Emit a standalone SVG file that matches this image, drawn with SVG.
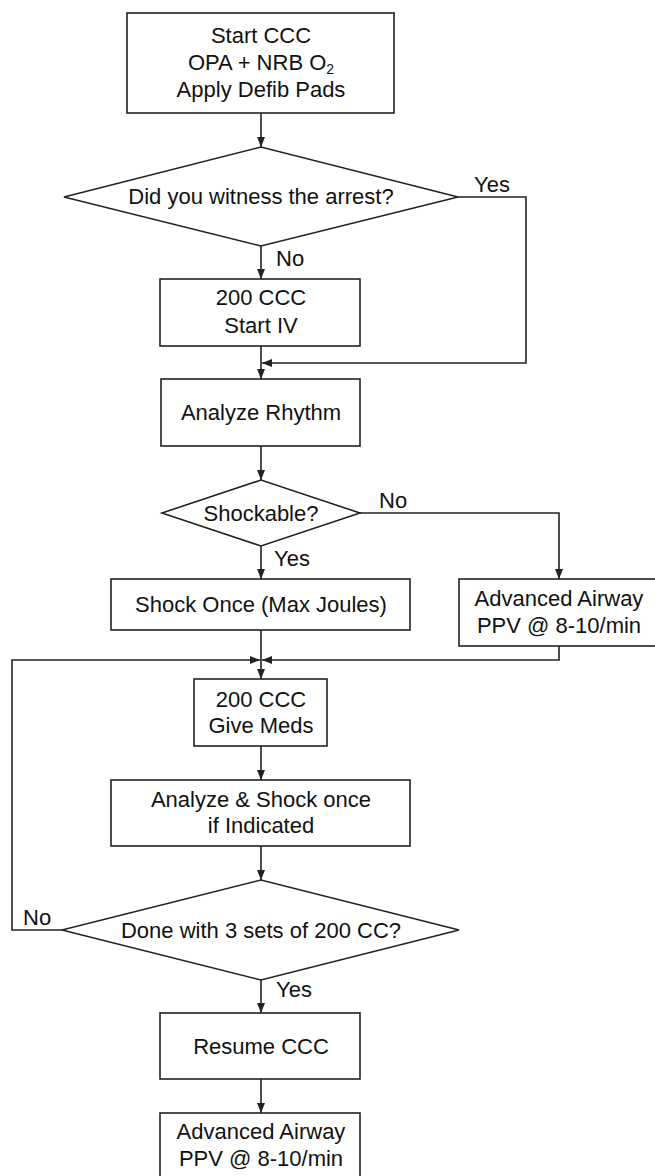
<svg xmlns="http://www.w3.org/2000/svg" width="655" height="1176" viewBox="0 0 655 1176">
<style>
.box{fill:#fff;stroke:#222;stroke-width:1.6}
.ln{fill:none;stroke:#222;stroke-width:1.6}
.t{font-family:"Liberation Sans",Arial,sans-serif;font-size:22px;fill:#111;text-anchor:middle}
.lb{font-family:"Liberation Sans",Arial,sans-serif;font-size:22px;fill:#111}
</style>
<defs>
<marker id="ah" markerUnits="userSpaceOnUse" markerWidth="10" markerHeight="8" refX="10" refY="4" orient="auto">
<path d="M0,0 L10,4 L0,8 z" fill="#222"/>
</marker>
</defs>
<rect width="655" height="1176" fill="#fff"/>
<g id="connectors">
<path class="ln" d="M261,113 V147" marker-end="url(#ah)"/>
<path class="ln" d="M261,246 V279" marker-end="url(#ah)"/>
<path class="ln" d="M458,197 H526 V363 H262" marker-end="url(#ah)"/>
<path class="ln" d="M261,346 V379" marker-end="url(#ah)"/>
<path class="ln" d="M261,446 V480" marker-end="url(#ah)"/>
<path class="ln" d="M261,546 V579" marker-end="url(#ah)"/>
<path class="ln" d="M360,513 H559 V579" marker-end="url(#ah)"/>
<path class="ln" d="M261,630 V679" marker-end="url(#ah)"/>
<path class="ln" d="M559,646 V660 H262" marker-end="url(#ah)"/>
<path class="ln" d="M62,930 H12 V660 H260" marker-end="url(#ah)"/>
<path class="ln" d="M261,746 V780" marker-end="url(#ah)"/>
<path class="ln" d="M261,846 V880" marker-end="url(#ah)"/>
<path class="ln" d="M261,980 V1013" marker-end="url(#ah)"/>
<path class="ln" d="M261,1079 V1113" marker-end="url(#ah)"/>
<text class="lb" x="474" y="192">Yes</text>
<text class="lb" x="276" y="266">No</text>
<text class="lb" x="379" y="508">No</text>
<text class="lb" x="274" y="566">Yes</text>
<text class="lb" x="23" y="925">No</text>
<text class="lb" x="276" y="997">Yes</text>
</g>
<g id="start">
<rect class="box" x="127" y="13" width="267" height="100"/>
<text class="t" x="261" y="43">Start CCC</text>
<text class="t" x="261" y="70">OPA + NRB O<tspan font-size="14" dy="4">2</tspan></text>
<text class="t" x="261" y="97">Apply Defib Pads</text>
</g>
<g id="witness">
<polygon class="box" points="64,197 261,147 458,197 261,246"/>
<text class="t" x="261" y="204">Did you witness the arrest?</text>
</g>
<g id="ccc1">
<rect class="box" x="160" y="279" width="200" height="67"/>
<text class="t" x="261" y="305">200 CCC</text>
<text class="t" x="261" y="333">Start IV</text>
</g>
<g id="rhythm">
<rect class="box" x="161" y="379" width="199" height="67"/>
<text class="t" x="261" y="420">Analyze Rhythm</text>
</g>
<g id="shockable">
<polygon class="box" points="162,513 261,480 360,513 261,546"/>
<text class="t" x="261" y="521">Shockable?</text>
</g>
<g id="shock">
<rect class="box" x="111" y="579" width="299" height="51"/>
<text class="t" x="261" y="612">Shock Once (Max Joules)</text>
</g>
<g id="airway1">
<rect class="box" x="459" y="579" width="200" height="67"/>
<text class="t" x="559" y="606">Advanced Airway</text>
<text class="t" x="559" y="633">PPV @ 8-10/min</text>
</g>
<g id="meds">
<rect class="box" x="194" y="679" width="133" height="67"/>
<text class="t" x="261" y="707">200 CCC</text>
<text class="t" x="261" y="733">Give Meds</text>
</g>
<g id="analyze-shock">
<rect class="box" x="111" y="780" width="299" height="66"/>
<text class="t" x="261" y="807">Analyze &amp; Shock once</text>
<text class="t" x="261" y="833">if Indicated</text>
</g>
<g id="done">
<polygon class="box" points="62,930 261,880 459,930 261,980"/>
<text class="t" x="261" y="938">Done with 3 sets of 200 CC?</text>
</g>
<g id="resume">
<rect class="box" x="160" y="1013" width="200" height="66"/>
<text class="t" x="261" y="1054">Resume CCC</text>
</g>
<g id="airway2">
<rect class="box" x="160" y="1113" width="200" height="67"/>
<text class="t" x="261" y="1139">Advanced Airway</text>
<text class="t" x="261" y="1166">PPV @ 8-10/min</text>
</g>
</svg>
